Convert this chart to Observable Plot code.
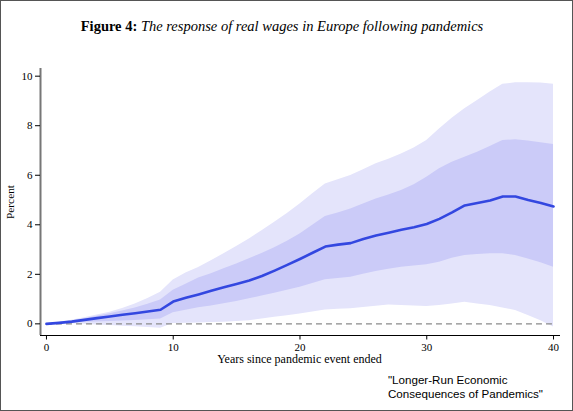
<!DOCTYPE html>
<html>
<head>
<meta charset="utf-8">
<script src="https://cdn.jsdelivr.net/npm/d3@7"></script>
<script src="https://cdn.jsdelivr.net/npm/@observablehq/plot@0.6"></script>
<style>
  html, body { margin: 0; padding: 0; background: #fff; }
  #wrap { position: relative; width: 573px; height: 411px; overflow: hidden; background: #fff; }
  #border { position: absolute; left: 0; top: 0; width: 573px; height: 411px; box-sizing: border-box; border: 1.5px solid #555; pointer-events: none; }
  #title { position: absolute; left: 0; width: 564px; top: 18px; height: 17px; line-height: 17px; text-align: center; font-family: "Liberation Serif", serif; font-size: 14.5px; color: #000; white-space: nowrap; }
  #xlabel { position: absolute; left: 199.5px; width: 200px; top: 354.5px; height: 9px; line-height: 9px; text-align: center; font-family: "Liberation Serif", serif; font-size: 12px; color: #000; white-space: nowrap; }
  #ylabel { position: absolute; left: 10px; top: 202px; transform: translate(-50%, -50%) rotate(-90deg); font-family: "Liberation Serif", serif; font-size: 11.3px; color: #000; white-space: nowrap; }
  #caption { position: absolute; left: 388px; top: 373px; font-family: "Liberation Sans", Arial, sans-serif; font-size: 11.6px; line-height: 14px; color: #000; white-space: nowrap; }
  #chart { position: absolute; left: 0; top: 0; }
</style>
</head>
<body>
<div id="wrap">
  <div id="chart"></div>
  <div id="title"><b>Figure 4:</b> <i>The response of real wages in Europe following pandemics</i></div>
  <div id="ylabel">Percent</div>
  <div id="xlabel">Years since pandemic event ended</div>
  <div id="caption">"Longer-Run Economic<br>Consequences of Pandemics"</div>
  <div id="border"></div>
</div>
<script>
const years = d3.range(0, 41);
const central = [0, 0.04, 0.09, 0.16, 0.23, 0.30, 0.37, 0.43, 0.50, 0.57,
  0.90, 1.05, 1.19, 1.34, 1.48, 1.61, 1.75, 1.93, 2.15, 2.38,
  2.62, 2.87, 3.12, 3.20, 3.26, 3.43, 3.57, 3.68, 3.80, 3.90,
  4.03, 4.24, 4.50, 4.78, 4.88, 4.98, 5.14, 5.14, 5.00, 4.88, 4.74];
const innerLo = [0, 0.00, 0.03, 0.06, 0.08, 0.10, 0.12, 0.14, 0.17, 0.20,
  0.45, 0.55, 0.65, 0.72, 0.81, 0.90, 1.01, 1.12, 1.24, 1.36,
  1.48, 1.63, 1.78, 1.83, 1.88, 2.00, 2.11, 2.20, 2.29, 2.34,
  2.39, 2.49, 2.65, 2.76, 2.80, 2.83, 2.83, 2.76, 2.62, 2.47, 2.29];
const innerHi = [0, 0.05, 0.12, 0.21, 0.31, 0.41, 0.52, 0.64, 0.79, 0.96,
  1.36, 1.60, 1.85, 2.02, 2.22, 2.42, 2.63, 2.84, 3.07, 3.34,
  3.63, 3.98, 4.33, 4.48, 4.64, 4.84, 5.04, 5.20, 5.38, 5.62,
  5.92, 6.26, 6.52, 6.73, 6.93, 7.16, 7.40, 7.43, 7.38, 7.31, 7.24];
const outerLo = [0, 0.01, 0.00, -0.02, -0.05, -0.07, -0.10, -0.12, -0.15, -0.18,
  0.01, 0.02, 0.03, 0.05, 0.07, 0.10, 0.13, 0.20, 0.27, 0.33,
  0.40, 0.48, 0.56, 0.59, 0.61, 0.66, 0.71, 0.76, 0.74, 0.72,
  0.70, 0.74, 0.80, 0.87, 0.80, 0.74, 0.64, 0.54, 0.34, 0.13, -0.13];
const outerHi = [0, 0.07, 0.15, 0.25, 0.36, 0.47, 0.62, 0.80, 1.02, 1.28,
  1.77, 2.05, 2.28, 2.55, 2.83, 3.12, 3.43, 3.76, 4.10, 4.46,
  4.84, 5.25, 5.65, 5.82, 5.99, 6.22, 6.46, 6.65, 6.86, 7.10,
  7.40, 7.87, 8.30, 8.68, 9.02, 9.36, 9.67, 9.73, 9.73, 9.72, 9.67];
const xTicks = [0, 10, 20, 30, 40];
const yTicks = [0, 2, 4, 6, 8, 10];

const data = years.map((y, i) => ({
  year: y, mid: central[i], iLo: innerLo[i], iHi: innerHi[i], oLo: outerLo[i], oHi: outerHi[i]
}));

const xMin = -0.47, xMax = 40.55, yMin = -0.47, yMax = 10.31;

const chart = Plot.plot({
  width: 573,
  height: 370,
  marginLeft: 40,
  marginRight: 13,
  marginTop: 68,
  marginBottom: 35,
  style: { fontFamily: "'Liberation Serif', serif", fontSize: "11px", color: "#000", background: "transparent" },
  x: { domain: [xMin, xMax] },
  y: { domain: [yMin, yMax] },
  marks: [
    Plot.areaY(data, { x: "year", y1: "oLo", y2: "oHi", fill: "#e4e4fb" }),
    Plot.areaY(data, { x: "year", y1: "iLo", y2: "iHi", fill: "#cbcbf8" }),
    Plot.ruleY([0], { x1: 0, x2: 40, stroke: "#8a8a8a", strokeWidth: 1.2, strokeDasharray: "6,4" }),
    Plot.lineY(data, { x: "year", y: "mid", stroke: "#3347e0", strokeWidth: 2.6 }),
    Plot.ruleX([xMin], { y1: yMin, y2: yMax, stroke: "#777", strokeWidth: 2 }),
    Plot.ruleY([yMin], { x1: xMin, x2: xMax, stroke: "#000", strokeWidth: 1.2 }),
    Plot.axisY({ ticks: yTicks, tickSize: 5, tickPadding: 3, label: null, fontSize: 11, fill: "#000", tickFormat: d => String(d) }),
    Plot.axisX({ ticks: xTicks, tickSize: 4.5, tickPadding: 3.5, label: null, fontSize: 11, fill: "#000", tickFormat: d => String(d) })
  ]
});
document.getElementById("chart").appendChild(chart);
</script>
</body>
</html>
